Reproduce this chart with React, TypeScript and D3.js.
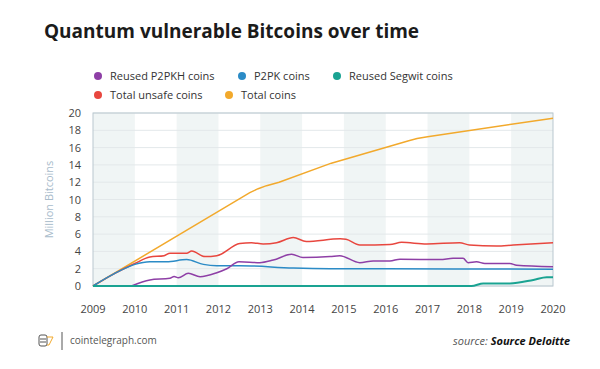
import React from "react";
import * as d3 from "d3";

const years = [2009, 2010, 2011, 2012, 2013, 2014, 2015, 2016, 2017, 2018, 2019, 2020];
const yTicks = [0, 2, 4, 6, 8, 10, 12, 14, 16, 18, 20];

type P = [number, number];

const totalCoins: P[] = [
  [2009, 0], [2012.75, 10.8], [2012.95, 11.25], [2013.15, 11.6], [2013.45, 12.0],
  [2014.7, 14.2], [2016.55, 16.8], [2016.75, 17.05], [2017.0, 17.25], [2020, 19.4],
];
const totalUnsafe: P[] = [
  [2009, 0], [2009.5, 1.4], [2010.0, 2.6], [2010.36, 3.35], [2010.7, 3.5], [2010.84, 3.8],
  [2011.24, 3.8], [2011.36, 4.05], [2011.68, 3.4], [2011.96, 3.5], [2012.51, 4.9],
  [2012.79, 5.0], [2013.07, 4.86], [2013.39, 5.0], [2013.79, 5.6], [2014.1, 5.15],
  [2014.91, 5.45], [2015.05, 5.4], [2015.38, 4.74], [2016.1, 4.8], [2016.38, 5.05],
  [2016.98, 4.86], [2017.77, 5.0], [2018.0, 4.74], [2018.65, 4.62], [2019.05, 4.74],
  [2020, 5.0],
];
const p2pk: P[] = [
  [2009, 0], [2009.5, 1.4], [2010.0, 2.5], [2010.36, 2.8], [2010.76, 2.8], [2011.24, 3.05],
  [2011.64, 2.5], [2011.96, 2.35], [2012.51, 2.35], [2013.79, 2.08], [2014.67, 2.0],
  [2016.0, 1.98], [2018.0, 1.96], [2020, 1.95],
];
const p2pkh: P[] = [
  [2009.92, 0], [2010.36, 0.7], [2010.84, 0.9], [2010.94, 1.1], [2011.04, 0.95],
  [2011.28, 1.46], [2011.56, 1.08], [2011.96, 1.54], [2012.2, 2.0], [2012.49, 2.8],
  [2012.99, 2.7], [2013.31, 3.0], [2013.75, 3.66], [2014.02, 3.3], [2014.67, 3.4],
  [2014.9, 3.5], [2015.38, 2.7], [2015.7, 2.9], [2016.1, 2.9], [2016.34, 3.1],
  [2017.3, 3.05], [2017.61, 3.2], [2017.85, 3.2], [2017.97, 2.7], [2018.17, 2.8],
  [2018.37, 2.6], [2018.97, 2.6], [2019.13, 2.4], [2020, 2.23],
];
const segwit: P[] = [
  [2009, 0], [2018.05, 0], [2018.33, 0.3], [2018.97, 0.3], [2019.53, 0.7],
  [2019.85, 1.0], [2020, 1.0],
];

const seriesNames = ["Reused P2PKH coins", "P2PK coins", "Reused Segwit coins", "Total unsafe coins", "Total coins"];
const seriesColors = ["#8e3fa6", "#2b8bc6", "#1aa392", "#e8473f", "#f2a92c"];
const seriesData = [p2pkh, p2pk, segwit, totalUnsafe, totalCoins];

const W = 600, H = 369;
const m = { left: 93, right: 553, top: 113, bottom: 286 };
const font = "'Open Sans', 'Noto Sans', sans-serif";

export default function App() {
  const x = d3.scaleLinear().domain([2009, 2020]).range([m.left, m.right]);
  const y = d3.scaleLinear().domain([0, 20]).range([m.bottom, m.top]);
  const smooth = d3.line<P>().x(d => x(d[0])).y(d => y(d[1])).curve(d3.curveMonotoneX);
  const straight = d3.line<P>().x(d => x(d[0])).y(d => y(d[1]));

  const legendItems = [
    { i: 0, cx: 98, cy: 76 },
    { i: 1, cx: 242, cy: 76 },
    { i: 2, cx: 337, cy: 76 },
    { i: 3, cx: 98, cy: 95 },
    { i: 4, cx: 229, cy: 95 },
  ];
  const drawOrder = [4, 3, 1, 0, 2];

  return (
    <svg width={W} height={H} style={{ position: "absolute", left: 0, top: 0, background: "#fff" }} fontFamily={font}>
      <rect width={W} height={H} fill="#fff" />
      <text x={44} y={38} fontSize={19} fontWeight={700} fill="#1b1b1b">Quantum vulnerable Bitcoins over time</text>

      {legendItems.map(({ i, cx, cy }) => (
        <g key={i}>
          <circle cx={cx} cy={cy} r={4} fill={seriesColors[i]} />
          <text x={cx + 12} y={cy + 4} fontSize={11} fill="#333">{seriesNames[i]}</text>
        </g>
      ))}

      {years.slice(0, -1).filter((_, i) => i % 2 === 0).map(yr => (
        <rect key={yr} x={x(yr)} y={m.top} width={x(yr + 1) - x(yr)} height={m.bottom - m.top} fill="#f0f5f5" />
      ))}
      {yTicks.map(t => (
        <line key={t} x1={m.left} x2={m.right} y1={y(t)} y2={y(t)} stroke="#e3e8ea" strokeWidth={1} />
      ))}
      <rect x={m.left} y={m.top} width={m.right - m.left} height={m.bottom - m.top} fill="none" stroke="#b9c7cf" strokeWidth={1} />

      {yTicks.map(t => (
        <text key={t} x={81} y={y(t) + 4} fontSize={11} fill="#444" textAnchor="end">{t}</text>
      ))}
      {years.map(yr => (
        <text key={yr} x={x(yr)} y={313} fontSize={11} fill="#444" textAnchor="middle">{yr}</text>
      ))}
      <text transform={`translate(53,${(m.top + m.bottom) / 2}) rotate(-90)`} fontSize={11} fill="#a9bccb" textAnchor="middle">Million Bitcoins</text>

      {drawOrder.map(i => (
        <path key={i} d={(i === 4 ? straight : smooth)(seriesData[i]) || ""} fill="none" stroke={seriesColors[i]} strokeWidth={i === 2 ? 2 : 1.5} />
      ))}

      <g transform="translate(38,333)" fill="none" stroke="#555" strokeWidth={1}>
        <rect x={1} y={2} width={8} height={11} rx={2} />
        <line x1={2} y1={6} x2={8} y2={6} />
        <line x1={2} y1={9} x2={8} y2={9} />
        <path d="M9 4 L15 4 L11 12 L9 12" stroke="#f2a92c" />
      </g>
      <line x1={62} x2={62} y1={332} y2={350} stroke="#555" strokeWidth={1} />
      <text x={70} y={344} fontSize={10} fill="#555">cointelegraph.com</text>

      <text x={453} y={345} fontSize={11} fontStyle="italic" fill="#333">
        <tspan fill="#555">source: </tspan>
        <tspan fontWeight={700} fill="#111">Source Deloitte</tspan>
      </text>
    </svg>
  );
}
